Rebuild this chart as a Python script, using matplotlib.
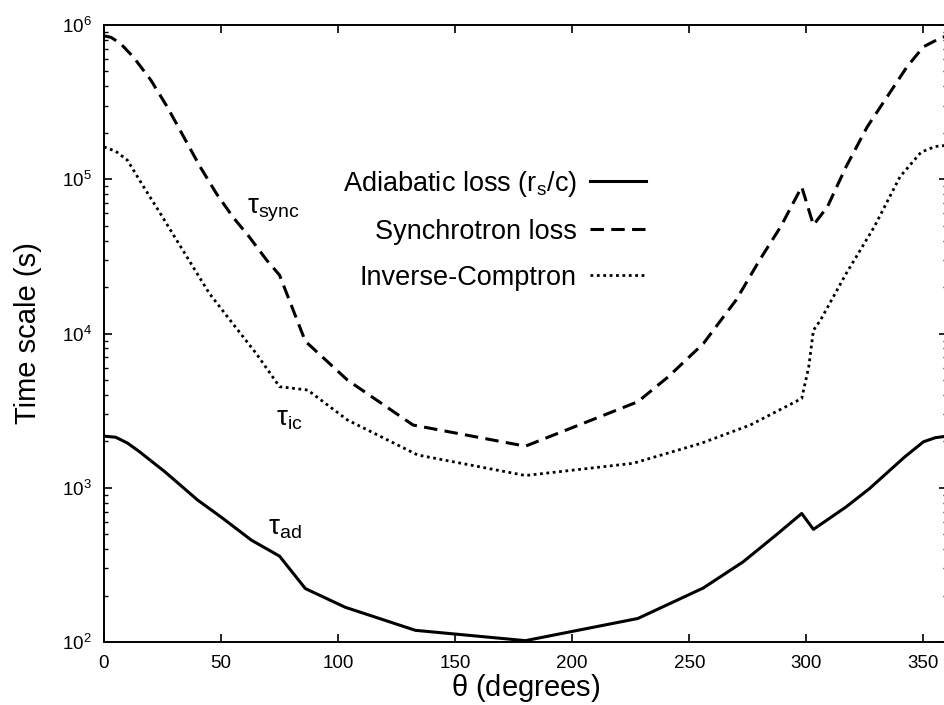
import matplotlib
matplotlib.use("Agg")
import matplotlib.pyplot as plt
import matplotlib.ticker as mticker

plt.rcParams.update({
    "font.family": ["Liberation Sans", "DejaVu Sans"],
    "mathtext.fontset": "custom",
    "mathtext.rm": "Liberation Sans",
    "mathtext.it": "Liberation Sans:italic",
    "mathtext.sf": "Liberation Sans",
    "mathtext.default": "rm",
})

# ── Data (theta in degrees, time scales in seconds) ──────────────────
theta_ad = [0, 5, 10, 15, 26, 40, 50, 63, 75, 86, 103, 133, 180, 228, 256,
            273, 287, 298, 303, 317, 327, 342, 350, 355, 360]
tau_ad = [2160, 2125, 1950, 1720, 1270, 832, 646, 457, 360, 222, 168, 119,
          102, 142, 224, 331, 493, 681, 537, 752, 989, 1585, 1986, 2110, 2160]

theta_sync = [0, 3, 7, 12.5, 20, 27, 34, 41, 48, 55, 62, 69.5, 75, 86, 104,
              132, 180, 228, 241, 256, 270, 280, 289, 298, 303, 309, 317,
              326, 334.5, 343, 350, 357, 360]
tau_sync = [851000, 832000, 760000, 622000, 440000, 295000, 189000, 121000,
            80900, 57100, 42400, 29900, 23900, 8910, 4990, 2550, 1860, 3610,
            5240, 8610, 16500, 29900, 49200, 89300, 50500, 66400, 121000,
            219000, 343000, 537000, 723000, 820000, 851000]

theta_ic = [0, 5, 10, 17, 24, 31, 38, 45, 55, 65, 75, 87, 104, 134, 180, 226,
            255, 276, 298, 301, 303, 306, 317, 329, 340, 349, 355, 360]
tau_ic = [162000, 152000, 133000, 89100, 60300, 40400, 27100, 18200, 11600,
          7430, 4520, 4300, 2750, 1630, 1200, 1440, 1940, 2550, 3790, 6080,
          10500, 12200, 24500, 49200, 104000, 150000, 163000, 166000]

# ── Plot ─────────────────────────────────────────────────────────────
fig = plt.figure(figsize=(9.45, 7.05), dpi=100, facecolor="white")
ax = fig.add_axes([0.110, 0.0894, 0.892, 0.8751])

ax.plot(theta_ad, tau_ad, color="black", lw=2.2,
        label=r"Adiabatic loss (r$_{\rm s}$/c)")
ax.plot(theta_sync, tau_sync, color="black", lw=2.2, dashes=(4.4, 2.4),
        label="Synchrotron loss")
ax.plot(theta_ic, tau_ic, color="black", lw=2.0, dashes=(1, 1.3),
        label="Inverse-Comptron")

ax.set_yscale("log")
ax.set_xlim(0, 360)
ax.set_ylim(1e2, 1e6)
ax.xaxis.set_major_locator(mticker.MultipleLocator(50))
ax.yaxis.set_major_locator(mticker.LogLocator(base=10, numticks=10))
ax.yaxis.set_minor_locator(mticker.LogLocator(base=10, subs=range(2, 10), numticks=10))
ax.yaxis.set_minor_formatter(mticker.NullFormatter())

ax.tick_params(axis="x", which="major", direction="in", top=True, length=6,
               width=1.2, labelsize=13.5, pad=9.5)
ax.tick_params(axis="y", which="major", direction="in", right=True, length=6,
               width=1.2, labelsize=13.5, pad=8.6)
ax.tick_params(axis="y", which="minor", direction="in", right=True, length=3,
               width=1.0)
for s in ax.spines.values():
    s.set_linewidth(1.4)

ax.set_xlabel(r"$\mathrm{\theta}$ (degrees)", fontsize=21)
ax.set_ylabel("Time scale (s)", fontsize=21)
ax.xaxis.set_label_coords(0.5, -0.048)
ax.yaxis.set_label_coords(-0.074, 0.5)

# curve labels
ax.text(61, 6.3e4, r"$\mathrm{\tau}_{\rm sync}$", fontsize=20, va="center", ha="left")
ax.text(73.5, 2.8e3, r"$\mathrm{\tau}_{\rm ic}$", fontsize=20, va="center", ha="left")
ax.text(70, 5.5e2, r"$\mathrm{\tau}_{\rm ad}$", fontsize=20, va="center", ha="left")

ax.legend(loc="upper right", bbox_to_anchor=(0.643, 0.767), frameon=False,
          markerfirst=False, fontsize=19.5, handlelength=2.05,
          handletextpad=0.5, labelspacing=0.74, borderpad=0, borderaxespad=0)

fig.savefig("out.png", dpi=100, facecolor="white")
